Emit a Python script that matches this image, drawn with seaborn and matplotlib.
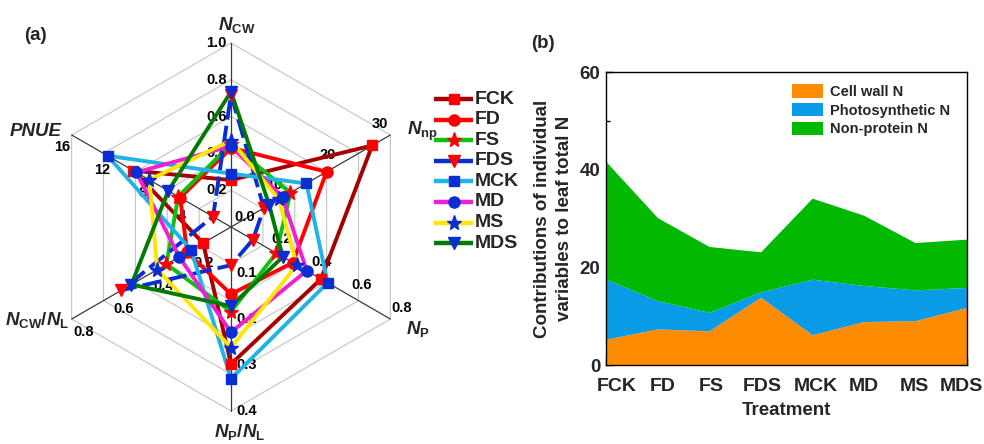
import numpy as np
import matplotlib
matplotlib.use("Agg")
import matplotlib.pyplot as plt
import matplotlib.transforms as mtransforms
import seaborn as sns

# ---------------- data ----------------
treatments = ["FCK", "FD", "FS", "FDS", "MCK", "MD", "MS", "MDS"]

# radar variables, clockwise from the top
radar_titles = [r"$\mathit{N}_{\mathrm{CW}}$", r"$\mathit{N}_{\mathrm{np}}$", r"$\mathit{N}_{\mathrm{P}}$",
                r"$\mathit{N}_{\mathrm{P}}/\mathit{N}_{\mathrm{L}}$",
                r"$\mathit{N}_{\mathrm{CW}}/\mathit{N}_{\mathrm{L}}$", "PNUE"]
radar_max = [1.0, 30, 0.8, 0.4, 0.8, 16]
radar_ticks = [[0.0, 0.2, 0.4, 0.6, 0.8, 1.0], [10, 20, 30], [0.2, 0.4, 0.6, 0.8],
               [0.1, 0.2, 0.3, 0.4], [0.2, 0.4, 0.6, 0.8], [4, 8, 12, 16]]
radar_tick_fmt = ["{:.1f}", "{:d}", "{:.1f}", "{:.1f}", "{:.1f}", "{:d}"]

n_cw = [0.255, 0.43, 0.45, 0.72, 0.29, 0.44, 0.47, 0.735]
n_np = [26.6, 18.0, 11.2, 6.2, 14.2, 9.7, 9.0, 7.2]
n_p = [0.452, 0.31, 0.227, 0.11, 0.485, 0.38, 0.33, 0.26]
np_nl = [0.298, 0.146, 0.184, 0.083, 0.33, 0.229, 0.262, 0.172]
ncw_nl = [0.14, 0.22, 0.324, 0.55, 0.20, 0.26, 0.37, 0.50]
pnue = [9.8, 5.1, 5.3, 1.8, 12.4, 9.5, 8.2, 6.3]

line_colors = ["#A50000", "#FF0000", "#10C010", "#0A2ED2", "#1EB4E8", "#F21ED2", "#FFE600", "#007A00"]
marker_colors = ["#FF0000"] * 4 + ["#0A2ED2"] * 4
markers = ["s", "o", "*", "v", "s", "o", "*", "v"]

# leaf N partitioning (% of leaf total N), stacked
area_labels = ["Cell wall N", "Photosynthetic N", "Non-protein N"]
cell_wall = [5.3, 7.4, 7.0, 13.9, 6.2, 8.9, 9.1, 11.8]
photosynthetic = [12.3, 5.8, 3.8, 1.1, 11.4, 7.4, 6.3, 4.1]
non_protein = [24.1, 17.0, 13.5, 8.2, 16.6, 14.4, 9.7, 9.9]
area_colors = ["#FF8C00", "#0A9BE6", "#00B900"]

# ---------------- style ----------------
sns.set_theme(style="ticks")
plt.rcParams["font.family"] = ["Liberation Sans", "DejaVu Sans"]
plt.rcParams["font.weight"] = "bold"
plt.rcParams["mathtext.fontset"] = "custom"
plt.rcParams["mathtext.rm"] = "Liberation Sans:bold"
plt.rcParams["mathtext.bf"] = "Liberation Sans:bold"
plt.rcParams["mathtext.it"] = "Liberation Sans:italic:bold"

W, H = 984, 444
fig = plt.figure(figsize=(W / 100, H / 100), dpi=100)


def fig_rect(l, t, r, b):
    return [l / W, 1 - b / H, (r - l) / W, (b - t) / H]


# ---------------- (a) radar ----------------
CX, CY, R = 231, 227, 184
ax = fig.add_axes(fig_rect(0, 0, 2 * CX, H))
ax.set_xlim(-CX / R, CX / R)
ax.set_ylim(-(H - CY) / R, CY / R)
ax.axis("off")


def px(x, y):
    return (x - CX) / R, (CY - y) / R


ang = np.deg2rad(90 - 60 * np.arange(6))
ux, uy = np.cos(ang), np.sin(ang)

for f in [0.2, 0.4, 0.6, 0.8, 1.0]:
    ax.plot(np.append(f * ux, f * ux[0]), np.append(f * uy, f * uy[0]),
            color="#C4C4C4", lw=0.8, zorder=1)
for k in range(6):
    ax.plot([0, ux[k]], [0, uy[k]], color="#3A3A3A", lw=0.9, zorder=1.5)

# tick labels: pixel offsets (right, up) and alignment for each variable
tick_place = [(-4, 0, "right"), (-10, 11, "center"), (11, 11, "center"),
              (5, 0, "left"), (12, -13, "center"), (-9, -12, "center")]
for k in range(6):
    dx, dy, ha = tick_place[k]
    for t in radar_ticks[k]:
        f = t / radar_max[k]
        ox, oy, h = dx, dy, ha
        if k == 0 and t == 0:
            ox, oy, h = 3, 10, "left"
        ax.annotate(radar_tick_fmt[k].format(t), (f * ux[k], f * uy[k]),
                    xytext=(ox, oy), textcoords="offset pixels", ha=h, va="center",
                    fontsize=10.5, fontweight="bold", color="black", zorder=2)

title_pos = [(237, 25), (422, 131), (418, 329), (240, 432), (37, 320), (36, 131)]
for k in range(6):
    kw = dict(fontsize=13.5, fontweight="bold", ha="center", va="center", zorder=2)
    if k == 5:
        kw["fontstyle"] = "italic"
    ax.text(*px(*title_pos[k]), radar_titles[k], **kw)

table = np.array([n_cw, n_np, n_p, np_nl, ncw_nl, pnue]) / np.array(radar_max)[:, None]
msize = {"s": 7.5, "o": 8, "*": 11, "v": 8.5}
for j, name in enumerate(treatments):
    xs = table[:, j] * ux
    ys = table[:, j] * uy
    xc, yc = np.append(xs, xs[0]), np.append(ys, ys[0])
    ls = (0, (5, 1.6)) if name == "FDS" else "-"
    sns.lineplot(x=xc, y=yc, sort=False, estimator=None, color=line_colors[j],
                 lw=2.8, linestyle=ls, ax=ax, zorder=3)
for j, name in enumerate(treatments):
    xs = table[:, j] * ux
    ys = table[:, j] * uy
    ax.plot(xs, ys, ls="none", marker=markers[j], ms=msize[markers[j]],
            mfc=marker_colors[j], mec=marker_colors[j], zorder=4)

ax.text(*px(35, 36), "(a)", fontsize=13.5, fontweight="bold", ha="center", va="center")

# legend of the radar panel
lax = fig.add_axes(fig_rect(430, 85, 530, 258))
lax.set_xlim(430, 530)
lax.set_ylim(258, 85)
lax.axis("off")
for j, name in enumerate(treatments):
    yrow = 99 + 20.6 * j
    lax.plot([434, 473], [yrow, yrow], color=line_colors[j], lw=3.2, solid_capstyle="butt")
    lax.plot([453.5], [yrow], ls="none", marker=markers[j], ms=msize[markers[j]],
             mfc=marker_colors[j], mec=marker_colors[j])
    lax.text(475, yrow, name, fontsize=14, fontweight="bold", ha="left", va="center")

# ---------------- (b) stacked area ----------------
ax2 = fig.add_axes(fig_rect(606, 72.3, 966.7, 365))
xpos = np.arange(len(treatments))
ax2.stackplot(xpos, cell_wall, photosynthetic, non_protein, colors=area_colors,
              labels=area_labels, lw=0)
ax2.set_xlim(0, len(treatments) - 1)
ax2.set_ylim(0, 60)
ax2.set_xticks(xpos)
ax2.set_xticklabels(treatments, fontsize=14, fontweight="bold")
ax2.set_yticks([0, 20, 40, 60])
ax2.set_yticks([10, 30, 50], minor=True)
ax2.set_yticklabels(["0", "20", "40", "60"], fontsize=13.5, fontweight="bold")
ax2.tick_params(axis="both", which="both", direction="in", color="black")
ax2.tick_params(axis="y", which="major", length=5, width=1, pad=4)
ax2.tick_params(axis="y", which="minor", length=3, width=1)
ax2.tick_params(axis="x", which="major", length=5, width=1, pad=9)
# nudge the end labels inward so they stay inside the panel
label_shift_px = [11, 5, 2.5, 2, 4, 0, -1, -5]
for lab, s in zip(ax2.get_xticklabels(), label_shift_px):
    lab.set_transform(lab.get_transform() +
                      mtransforms.ScaledTranslation(s / 100, 0, fig.dpi_scale_trans))
for s in ax2.spines.values():
    s.set_color("black")
    s.set_linewidth(1.0)
ax2.set_xlabel("Treatment", fontsize=13.5, fontweight="bold")
ax2.xaxis.set_label_coords(0.5, -0.125)
fig.text(553.5 / W, 1 - 218.5 / H, "Contributions of individual\nvariables to leaf total N",
         rotation=90, ha="center", va="center", fontsize=13.5, fontweight="bold",
         linespacing=1.35)
ax2.legend(loc="upper left", bbox_to_anchor=(791.7 / W, 1 - 84 / H),
           bbox_transform=fig.transFigure, frameon=False, borderpad=0, borderaxespad=0,
           handlelength=2.15, handleheight=1.05, handletextpad=0.5, labelspacing=0.28,
           prop={"size": 10.5, "weight": "bold"})
fig.text(543 / W, 1 - 43 / H, "(b)", fontsize=13.5, fontweight="bold", ha="center", va="center")

fig.savefig("out.png", dpi=100)
